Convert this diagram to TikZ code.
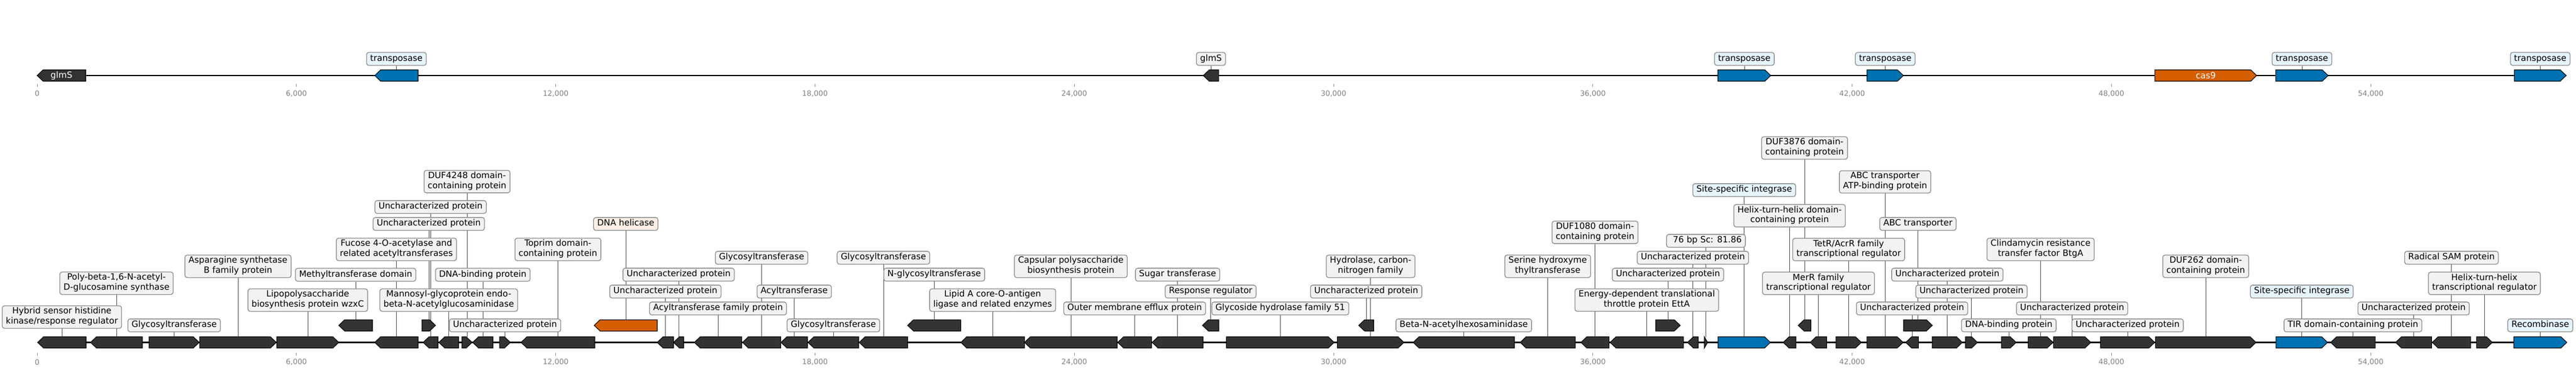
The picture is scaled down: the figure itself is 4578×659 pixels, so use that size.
\documentclass[tikz,border=0pt]{standalone}
\usepackage{fontspec}
\setmainfont{DejaVu Sans}
\usetikzlibrary{backgrounds}

\definecolor{genedark}{HTML}{333333}
\definecolor{geneblue}{HTML}{0072B2}
\definecolor{geneorange}{HTML}{D55E00}
\definecolor{taggray}{HTML}{F2F2F2}
\definecolor{tagbluefill}{HTML}{E6F4FC}
\definecolor{tagorangefill}{HTML}{FDEFE5}

\tikzset{
  gene/.style={draw=black, line width=1.1pt, line join=miter},
  track/.style={line width=2.2pt},
  conn/.style={draw=black!70, line width=0.9pt},
  tag/.style={draw=black!45, line width=1.3pt, rounded corners=4pt, fill=taggray,
    inner xsep=6.5pt, inner ysep=2.6pt, align=center,
    font=\fontsize{15.3}{17.7}\selectfont,
    execute at begin node=\strut, execute at end node=\strut},
  tagblue/.style={tag, fill=tagbluefill},
  tagorange/.style={tag, fill=tagorangefill},
  genetext/.style={text=white, inner sep=0pt, font=\fontsize{15.3}{17.7}\selectfont},
  tickmark/.style={draw=black!45, line width=0.8pt},
  ticklab/.style={text=black!50, inner sep=0pt, font=\fontsize{13}{15}\selectfont},
}

% gene arrows: name, start, end, track height, colour
\newcommand{\generight}[5]{%
  \pgfmathsetmacro{\headlen}{min(10.5,#3-#2)}
  \draw[gene, fill=#5] (#2,{#4-10}) -- ({#3-\headlen},{#4-10}) -- (#3,#4)
    -- ({#3-\headlen},{#4+10}) -- (#2,{#4+10}) -- cycle;
  \coordinate (#1) at ({(#2+#3)/2},{#4-10});
}
\newcommand{\geneleft}[5]{%
  \pgfmathsetmacro{\headlen}{min(10.5,#3-#2)}
  \draw[gene, fill=#5] (#3,{#4-10}) -- ({#2+\headlen},{#4-10}) -- (#2,#4)
    -- ({#2+\headlen},{#4+10}) -- (#3,{#4+10}) -- cycle;
  \coordinate (#1) at ({(#2+#3)/2},{#4-10});
}

\begin{document}
\begin{tikzpicture}[x=1pt, y=-1pt]
  \useasboundingbox (0,0) rectangle (4578,659);
  \def\ta{134}
  \def\la{607.5}
  \def\lb{577.3}

  % upper record
  \coordinate (a0) at (66,\ta);
  \coordinate (a1) at (4561,\ta);
  \draw[track] (a0) -- (a1);
  \foreach \k/\lab in {0/0,1/{6,000},2/{12,000},3/{18,000},4/{24,000},5/{30,000},6/{36,000},7/{42,000},8/{48,000},9/{54,000}}{
    \draw[tickmark] ({66+460.8*\k},149) -- ({66+460.8*\k},154);
    \node[ticklab] at ({66+460.8*\k},166) {\lab};
  }
  \geneleft{u1}{66}{152.5}{\ta}{genedark}
  \geneleft{u2}{666}{743}{\ta}{geneblue}
  \geneleft{u3}{2138.4}{2165.8}{\ta}{genedark}
  \generight{u4}{3053}{3147}{\ta}{geneblue}
  \generight{u5}{3318}{3382.6}{\ta}{geneblue}
  \generight{u6}{3829.6}{4010.4}{\ta}{geneorange}
  \generight{u7}{4044.4}{4137.5}{\ta}{geneblue}
  \generight{u8}{4468.4}{4560.5}{\ta}{geneblue}
  \node[genetext] (n1) at (u1 |- 0,\ta) {glmS};
  \node[genetext] (n6) at (u6 |- 0,\ta) {cas9};
  \node[tagblue] (s2) at (u2 |- 0,104.5) {transposase};
  \node[tag] (s3) at (u3 |- 0,104.5) {glmS};
  \node[tagblue] (s4) at (u4 |- 0,104.5) {transposase};
  \node[tagblue] (s5) at (u5 |- 0,104.5) {transposase};
  \node[tagblue] (s7) at (u7 |- 0,104.5) {transposase};
  \node[tagblue] (s8) at (u8 |- 0,104.5) {transposase};

  % lower record
  \coordinate (b0) at (67,\la);
  \coordinate (b1) at (4561,\la);
  \draw[track] (b0) -- (b1);
  \foreach \k/\lab in {0/0,1/{6,000},2/{12,000},3/{18,000},4/{24,000},5/{30,000},6/{36,000},7/{42,000},8/{48,000},9/{54,000}}{
    \draw[tickmark] ({66+460.8*\k},626) -- ({66+460.8*\k},630.5);
    \node[ticklab] at ({66+460.8*\k},642.5) {\lab};
  }
  \geneleft{g1}{67}{153}{\la}{genedark}
  \geneleft{g2}{161}{253}{\la}{genedark}
  \generight{g3}{265}{354}{\la}{genedark}
  \generight{g4}{355}{491}{\la}{genedark}
  \generight{g5}{492}{602}{\la}{genedark}
  \geneleft{g6}{602}{662}{\lb}{genedark}
  \geneleft{g7}{666}{743}{\la}{genedark}
  \generight{g8}{750}{774}{\lb}{genedark}
  \geneleft{g9}{752}{778.5}{\la}{genedark}
  \geneleft{g10}{780}{815}{\la}{genedark}
  \generight{g11}{821}{839}{\la}{genedark}
  \geneleft{g12}{840}{876}{\la}{genedark}
  \generight{g13}{888}{907}{\la}{genedark}
  \geneleft{g14}{926}{1057}{\la}{genedark}
  \geneleft{g15}{1056}{1168}{\lb}{geneorange}
  \geneleft{g16}{1168}{1197}{\la}{genedark}
  \geneleft{g17}{1197}{1215}{\la}{genedark}
  \geneleft{g18}{1234}{1318}{\la}{genedark}
  \geneleft{g19}{1319.5}{1387.5}{\la}{genedark}
  \geneleft{g20}{1388}{1435}{\la}{genedark}
  \geneleft{g21}{1436}{1526}{\la}{genedark}
  \geneleft{g22}{1527}{1613}{\la}{genedark}
  \geneleft{g23}{1613}{1707.5}{\lb}{genedark}
  \geneleft{g24}{1707.5}{1820.7}{\la}{genedark}
  \geneleft{g25}{1820.7}{1985.4}{\la}{genedark}
  \geneleft{g26}{1986.3}{2046.6}{\la}{genedark}
  \geneleft{g27}{2047.5}{2138}{\la}{genedark}
  \geneleft{g28}{2137}{2166}{\lb}{genedark}
  \generight{g29}{2179.5}{2371}{\la}{genedark}
  \generight{g30}{2376.6}{2495}{\la}{genedark}
  \geneleft{g31}{2414.6}{2441.3}{\lb}{genedark}
  \geneleft{g32}{2511.4}{2691.3}{\la}{genedark}
  \geneleft{g33}{2701.6}{2799.5}{\la}{genedark}
  \geneleft{g34}{2809.6}{2859.6}{\la}{genedark}
  \geneleft{g35}{2861.4}{2991.8}{\la}{genedark}
  \generight{g36}{2942.5}{2986}{\lb}{genedark}
  \geneleft{g37}{2999}{3018}{\la}{genedark}
  \generight{g38}{3029}{3034.6}{\la}{genedark}
  \generight{g39}{3053.2}{3146.4}{\la}{geneblue}
  \geneleft{g40}{3169}{3191.8}{\la}{genedark}
  \geneleft{g41}{3195.7}{3218.3}{\lb}{genedark}
  \geneleft{g42}{3217}{3246.4}{\la}{genedark}
  \generight{g43}{3262.9}{3307.9}{\la}{genedark}
  \generight{g44}{3317.9}{3382.1}{\la}{genedark}
  \geneleft{g45}{3386.8}{3409.3}{\la}{genedark}
  \generight{g46}{3383}{3434}{\lb}{genedark}
  \generight{g47}{3434}{3487.5}{\la}{genedark}
  \generight{g48}{3493}{3514.3}{\la}{genedark}
  \generight{g49}{3557}{3583}{\la}{genedark}
  \generight{g50}{3604.3}{3648.6}{\la}{genedark}
  \generight{g51}{3649.3}{3715.7}{\la}{genedark}
  \generight{g52}{3733}{3829.3}{\la}{genedark}
  \generight{g53}{3830.7}{4009.3}{\la}{genedark}
  \generight{g54}{4044.8}{4136.4}{\la}{geneblue}
  \geneleft{g55}{4142}{4221}{\la}{genedark}
  \geneleft{g56}{4257.3}{4321.3}{\la}{genedark}
  \geneleft{g57}{4322.5}{4390.8}{\la}{genedark}
  \generight{g58}{4401}{4429.3}{\la}{genedark}
  \generight{g59}{4467.4}{4561.6}{\la}{geneblue}

  \node[tag] (t1) at (g1 |- 0,562.5) {Hybrid sensor histidine\\kinase/response regulator};
  \node[tag] (t2) at (g2 |- 0,502.5) {Poly-beta-1,6-N-acetyl-\\D-glucosamine synthase};
  \node[tag] (t3) at (g3 |- 0,577.3) {Glycosyltransferase};
  \node[tag] (t4) at (g4 |- 0,472.5) {Asparagine synthetase\\B family protein};
  \node[tag] (t5) at (g5 |- 0,532.5) {Lipopolysaccharide\\biosynthesis protein wzxC};
  \node[tag] (t6) at (g6 |- 0,487.5) {Methyltransferase domain};
  \node[tag] (t7) at (g7 |- 0,442.5) {Fucose 4-O-acetylase and\\related acetyltransferases};
  \node[tag] (t8) at (g8 |- 0,397.3) {Uncharacterized protein};
  \node[tag] (t9) at (g9 |- 0,367.3) {Uncharacterized protein};
  \node[tag] (t10) at (g10 |- 0,532.5) {Mannosyl-glycoprotein endo-\\beta-N-acetylglucosaminidase};
  \node[tag] (t11) at (g11 |- 0,322.2) {DUF4248 domain-\\containing protein};
  \node[tag] (t12) at (g12 |- 0,487.5) {DNA-binding protein};
  \node[tag] (t13) at (g13 |- 0,577.3) {Uncharacterized protein};
  \node[tag] (t14) at (g14 |- 0,442.5) {Toprim domain-\\containing protein};
  \node[tagorange] (t15) at (g15 |- 0,397.3) {DNA helicase};
  \node[tag] (t16) at (g16 |- 0,517.3) {Uncharacterized protein};
  \node[tag] (t17) at (g17 |- 0,487.3) {Uncharacterized protein};
  \node[tag] (t18) at (g18 |- 0,547.3) {Acyltransferase family protein};
  \node[tag] (t19) at (g19 |- 0,457.3) {Glycosyltransferase};
  \node[tag] (t20) at (g20 |- 0,517.3) {Acyltransferase};
  \node[tag] (t21) at (g21 |- 0,577.3) {Glycosyltransferase};
  \node[tag] (t22) at (g22 |- 0,457.3) {Glycosyltransferase};
  \node[tag] (t23) at (g23 |- 0,487.3) {N-glycosyltransferase};
  \node[tag] (t24) at (g24 |- 0,532.5) {Lipid A core-O-antigen\\ligase and related enzymes};
  \node[tag] (t25) at (g25 |- 0,472.5) {Capsular polysaccharide\\biosynthesis protein};
  \node[tag] (t26) at (g26 |- 0,547.3) {Outer membrane efflux protein};
  \node[tag] (t27) at (g27 |- 0,487.3) {Sugar transferase};
  \node[tag] (t28) at (g28 |- 0,517.3) {Response regulator};
  \node[tag] (t29) at (g29 |- 0,547.3) {Glycoside hydrolase family 51};
  \node[tag] (t30) at (g30 |- 0,472.5) {Hydrolase, carbon-\\nitrogen family};
  \node[tag] (t31) at (g31 |- 0,517.3) {Uncharacterized protein};
  \node[tag] (t32) at (g32 |- 0,577.3) {Beta-N-acetylhexosaminidase};
  \node[tag] (t33) at (g33 |- 0,472.5) {Serine hydroxyme\\thyltransferase};
  \node[tag] (t34) at (g34 |- 0,412.2) {DUF1080 domain-\\containing protein};
  \node[tag] (t35) at (g35 |- 0,532.4) {Energy-dependent translational\\throttle protein EttA};
  \node[tag] (t36) at (g36 |- 0,487.3) {Uncharacterized protein};
  \node[tag] (t37) at (g37 |- 0,457.3) {Uncharacterized protein};
  \node[tag] (t38) at (g38 |- 0,427.3) {\hspace*{.32em}76 bp Sc: 81.86};
  \node[tagblue] (t39) at (g39 |- 0,337.3) {Site-specific integrase};
  \node[tag] (t40) at (g40 |- 0,382.7) {Helix-turn-helix domain-\\containing protein};
  \node[tag] (t41) at (g41 |- 0,262.5) {DUF3876 domain-\\containing protein};
  \node[tag] (t42) at (g42 |- 0,502.7) {MerR family\\transcriptional regulator};
  \node[tag] (t43) at (g43 |- 0,442.7) {TetR/AcrR family\\transcriptional regulator};
  \node[tag] (t44) at (g44 |- 0,322.7) {ABC transporter\\ATP-binding protein};
  \node[tag] (t45) at (g45 |- 0,547.3) {Uncharacterized protein};
  \node[tag] (t46) at (g46 |- 0,397.3) {ABC transporter};
  \node[tag] (t47) at (g47 |- 0,487.3) {Uncharacterized protein};
  \node[tag] (t48) at (g48 |- 0,517.3) {Uncharacterized protein};
  \node[tag] (t49) at (g49 |- 0,577.3) {DNA-binding protein};
  \node[tag] (t50) at (g50 |- 0,442.5) {Clindamycin resistance\\transfer factor BtgA};
  \node[tag] (t51) at (g51 |- 0,547.3) {Uncharacterized protein};
  \node[tag] (t52) at (g52 |- 0,577.3) {Uncharacterized protein};
  \node[tag] (t53) at (g53 |- 0,472.5) {DUF262 domain-\\containing protein};
  \node[tagblue] (t54) at (g54 |- 0,517.3) {Site-specific integrase};
  \node[tag] (t55) at (g55 |- 0,577.3) {TIR domain-containing protein};
  \node[tag] (t56) at (g56 |- 0,547.3) {Uncharacterized protein};
  \node[tag] (t57) at (g57 |- 0,457.3) {Radical SAM protein};
  \node[tag] (t58) at (g58 |- 0,502.7) {Helix-turn-helix\\transcriptional regulator};
  \node[tagblue] (t59) at (g59 |- 0,577.3) {Recombinase};

  % label lines go behind boxes and arrows
  \begin{pgfonlayer}{background}
    \foreach \i in {2,3,4,5,7,8}
      \draw[conn] (s\i) -- (u\i);
    \foreach \i in {1,...,59}
      \draw[conn] (t\i) -- (g\i);
  \end{pgfonlayer}
\end{tikzpicture}
\end{document}
